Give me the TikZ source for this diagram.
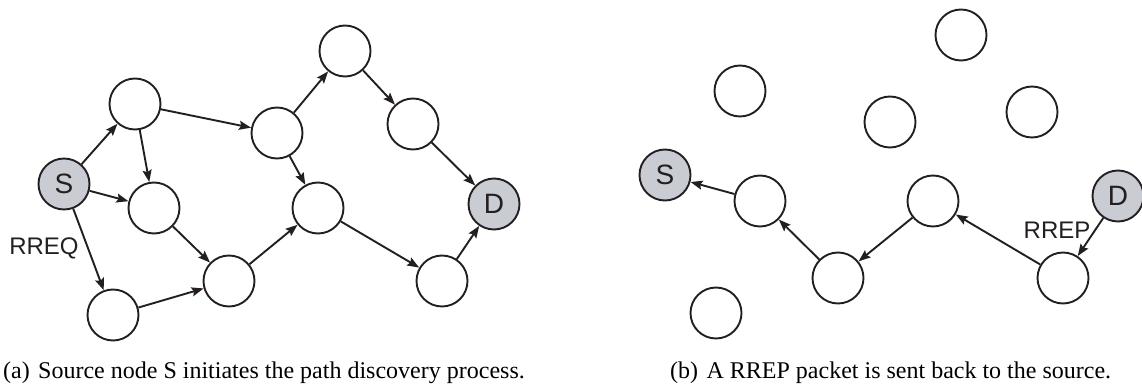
\documentclass[tikz,border=0pt]{standalone}
\usepackage{fontspec}
\setmainfont{Liberation Serif}
\setsansfont{Liberation Sans}
\usetikzlibrary{arrows.meta}
\definecolor{ink}{HTML}{231F20}
\definecolor{nodegray}{HTML}{C9CCD3}
\tikzset{
  peer/.style={circle, draw=ink, line width=1.9pt, fill=white, minimum size=51pt, inner sep=0pt},
  endpt/.style={peer, fill=nodegray, font=\sffamily\fontsize{28}{30}\selectfont, text=ink},
  hop/.style={draw=ink, line width=1.9pt, -{Stealth[length=12pt,width=9pt,inset=2pt]}},
  lbl/.style={font=\sffamily\fontsize{24}{26}\selectfont, text=ink, inner sep=0pt},
  capt/.style={font=\fontsize{24}{26}\selectfont, text=black, inner sep=0pt, anchor=base west}
}
\begin{document}
\begin{tikzpicture}[x=1pt,y=-1pt]
\useasboundingbox (0,0) rectangle (1142,387);
% panel (a)
\node[endpt] (S) at (64,184) {S};
\node[peer] (A) at (135,104) {};
\node[peer] (B) at (154,208) {};
\node[peer] (C) at (113,315) {};
\node[peer] (E) at (229,281) {};
\node[peer] (F) at (277,133) {};
\node[peer] (G) at (318,208) {};
\node[peer] (H) at (345,51) {};
\node[peer] (I) at (413,124) {};
\node[peer] (J) at (442,281) {};
\node[endpt] (D) at (494,204) {D};
\draw[hop] (S) -- (A);
\draw[hop] (S) -- (B);
\draw[hop] (S) -- (C);
\draw[hop] (A) -- (B);
\draw[hop] (A) -- (F);
\draw[hop] (B) -- (E);
\draw[hop] (C) -- (E);
\draw[hop] (E) -- (G);
\draw[hop] (F) -- (H);
\draw[hop] (F) -- (G);
\draw[hop] (H) -- (I);
\draw[hop] (I) -- (D);
\draw[hop] (G) -- (J);
\draw[hop] (J) -- (D);
\node[lbl] (rreq) at (44,248) {RREQ};
\node[capt] (capa) at (3,378) {(a)\hspace{0.35em}Source node S initiates the path discovery process.};
% panel (b)
\node[endpt] (S2) at (665,175) {S};
\node[peer] (n1) at (740,91) {};
\node[peer] (n2) at (961,35) {};
\node[peer] (n3) at (890,122) {};
\node[peer] (n4) at (1032,112) {};
\node[peer] (m1) at (760,201) {};
\node[peer] (m2) at (838,278) {};
\node[peer] (m3) at (933,201) {};
\node[peer] (m4) at (1063,278) {};
\node[peer] (lone) at (716,313) {};
\node[endpt] (D2) at (1118,196) {D};
\draw[hop] (m1) -- (S2);
\draw[hop] (m2) -- (m1);
\draw[hop] (m3) -- (m2);
\draw[hop] (m4) -- (m3);
\draw[hop] (D2) -- (m4);
\node[lbl] (rrep) at (1057,230) {RREP};
\node[capt] (capb) at (670,378) {(b)\hspace{0.35em}A RREP packet is sent back to the source.};
\end{tikzpicture}
\end{document}
